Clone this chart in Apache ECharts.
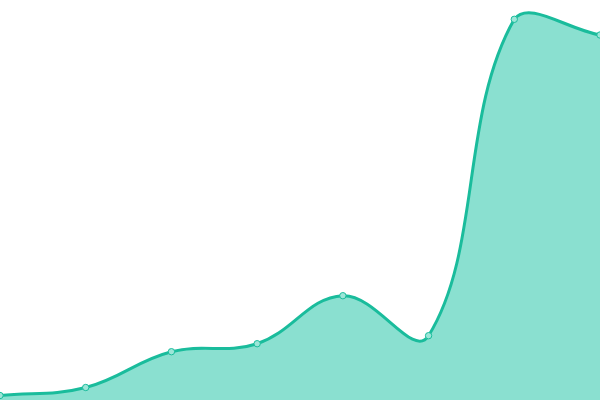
<!DOCTYPE html>
<html><head><meta charset="utf-8">
<script src="https://cdn.jsdelivr.net/npm/echarts@6/dist/echarts.min.js"></script>
<style>html,body{margin:0;padding:0;background:#fff}#c{width:600px;height:400px}</style>
</head><body><div id="c"></div>
<script>
const categories = ['1','2','3','4','5','6','7','8'];
const values = [4.5, 12.5, 48.3, 56.3, 104.3, 64.3, 380.7, 365];
const TENSION = 0.4;
const LINE = '#1abc9c';
const AREA = '#8ae0d0';
const POINT = '#9ce6d8';

function renderCurve(params, api) {
  if (params.dataIndex !== 0) return null;
  const cs = params.coordSys;
  const clampX = x => Math.max(cs.x, Math.min(cs.x + cs.width, x));
  const clampY = y => Math.max(cs.y, Math.min(cs.y + cs.height, y));
  const pts = values.map((v, i) => api.coord([i, v]));
  const n = pts.length;
  const ctrl = pts.map((p, i) => {
    const prev = pts[i - 1] || p, next = pts[i + 1] || p;
    const d01 = Math.hypot(p[0] - prev[0], p[1] - prev[1]);
    const d12 = Math.hypot(next[0] - p[0], next[1] - p[1]);
    let s01 = d01 / (d01 + d12), s12 = d12 / (d01 + d12);
    if (isNaN(s01)) s01 = 0; if (isNaN(s12)) s12 = 0;
    const fa = TENSION * s01, fb = TENSION * s12;
    return {
      prev: [clampX(p[0] - fa * (next[0] - prev[0])), clampY(p[1] - fa * (next[1] - prev[1]))],
      next: [clampX(p[0] + fb * (next[0] - prev[0])), clampY(p[1] + fb * (next[1] - prev[1]))]
    };
  });
  let d = 'M' + pts[0][0] + ' ' + pts[0][1];
  for (let i = 1; i < n; i++) {
    const c1 = ctrl[i - 1].next, c2 = ctrl[i].prev, p = pts[i];
    d += ' C' + c1[0] + ' ' + c1[1] + ' ' + c2[0] + ' ' + c2[1] + ' ' + p[0] + ' ' + p[1];
  }
  const base0 = api.coord([0, 0]), base1 = api.coord([n - 1, 0]);
  const areaD = d + ' L' + base1[0] + ' ' + base1[1] + ' L' + base0[0] + ' ' + base0[1] + ' Z';
  const children = [
    {type: 'path', shape: {pathData: areaD}, style: {fill: AREA, stroke: null}},
    {type: 'path', shape: {pathData: d}, style: {fill: null, stroke: LINE, lineWidth: 3}}
  ];
  pts.forEach(p => children.push({
    type: 'circle', shape: {cx: p[0], cy: p[1], r: 3.2},
    style: {fill: POINT, stroke: LINE, lineWidth: 1}
  }));
  return {type: 'group', children};
}

const chart = echarts.init(document.getElementById('c'));
chart.setOption({
  animation: false,
  grid: {left: 0, right: 0, top: 0, bottom: 0},
  xAxis: {type: 'category', data: categories, boundaryGap: false, show: false},
  yAxis: {type: 'value', min: 0, max: 400, show: false},
  series: [{
    type: 'custom',
    data: values.map((v, i) => [i, v]),
    encode: {x: 0, y: 1},
    clip: false,
    renderItem: renderCurve
  }]
});
</script></body></html>
